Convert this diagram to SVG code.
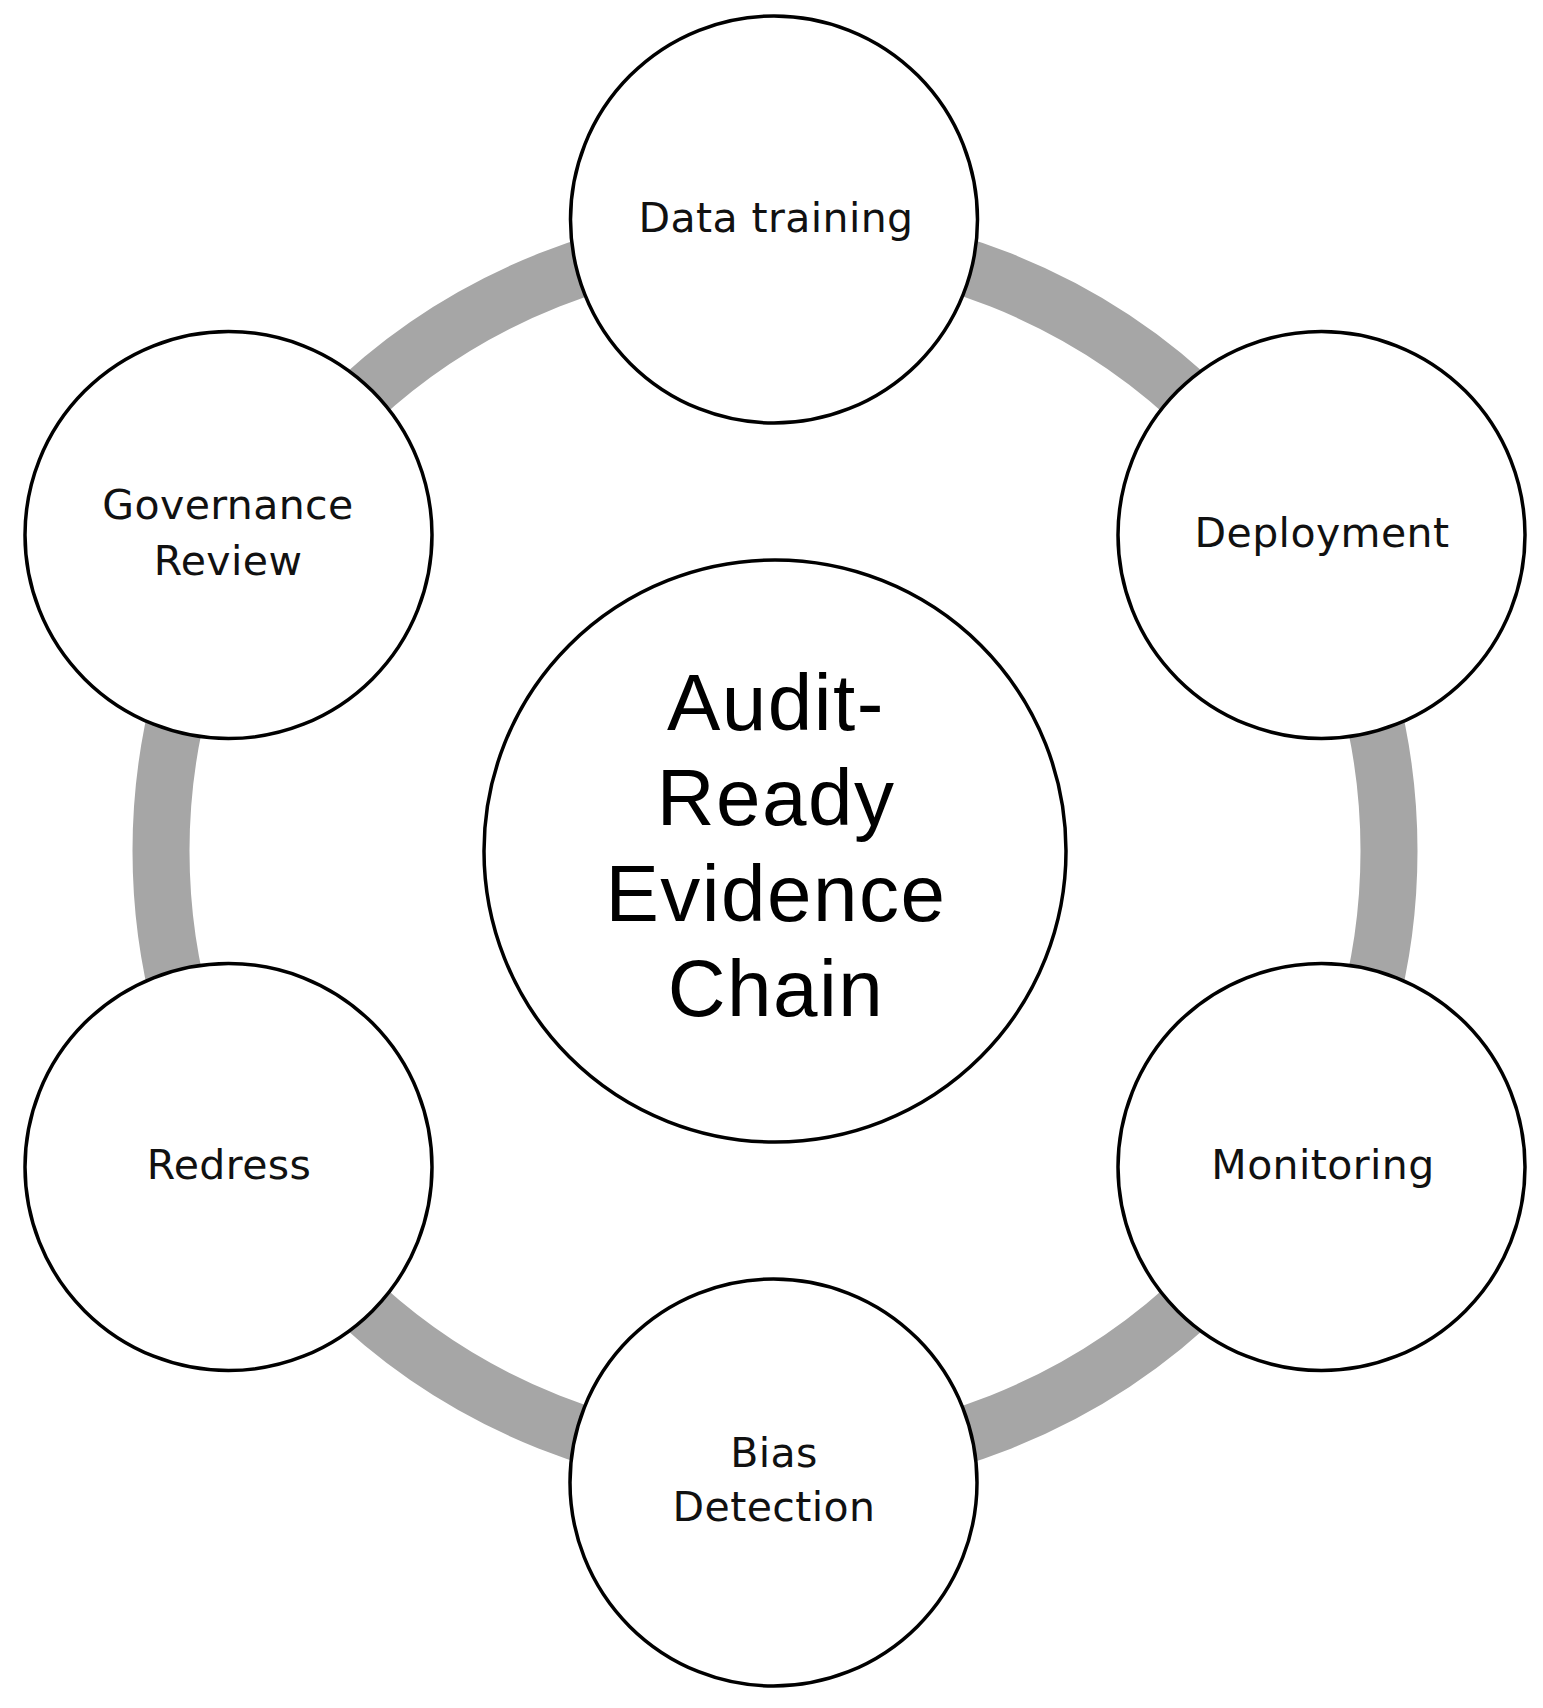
<svg xmlns="http://www.w3.org/2000/svg" width="1543" height="1708" viewBox="0 0 1543 1708">
<style>
.node{fill:#fff;stroke:#000;stroke-width:3.5}
.lbl{font-family:"DejaVu Sans",sans-serif;font-size:41px;fill:#111;text-anchor:middle;letter-spacing:0.4px}
.big{font-family:"Liberation Sans",Arial,sans-serif;font-size:80px;fill:#000;text-anchor:middle;letter-spacing:1.5px}
</style>
<rect width="1543" height="1708" fill="#fff"/>
<g id="connectors">
<circle cx="775" cy="851" r="614" fill="none" stroke="#a6a6a6" stroke-width="57"/>
</g>
<g id="center">
<circle class="node" cx="775" cy="851" r="291"/>
<text class="big" x="776" y="730">Audit-</text>
<text class="big" x="776" y="825">Ready</text>
<text class="big" x="776" y="921">Evidence</text>
<text class="big" x="776" y="1016">Chain</text>
</g>
<g id="data-training">
<circle class="node" cx="774" cy="219.5" r="203.5"/>
<text class="lbl" x="776" y="232">Data training</text>
</g>
<g id="deployment">
<circle class="node" cx="1321.5" cy="535" r="203.5"/>
<text class="lbl" x="1322" y="547">Deployment</text>
</g>
<g id="monitoring">
<circle class="node" cx="1321.5" cy="1167" r="203.5"/>
<text class="lbl" x="1323" y="1179">Monitoring</text>
</g>
<g id="bias-detection">
<circle class="node" cx="773.5" cy="1482.5" r="203.5"/>
<text class="lbl" x="774" y="1467">Bias</text>
<text class="lbl" x="774" y="1521">Detection</text>
</g>
<g id="redress">
<circle class="node" cx="228.5" cy="1167" r="203.5"/>
<text class="lbl" x="229" y="1179">Redress</text>
</g>
<g id="governance-review">
<circle class="node" cx="228.5" cy="535" r="203.5"/>
<text class="lbl" x="228" y="519">Governance</text>
<text class="lbl" x="228" y="575">Review</text>
</g>
</svg>
